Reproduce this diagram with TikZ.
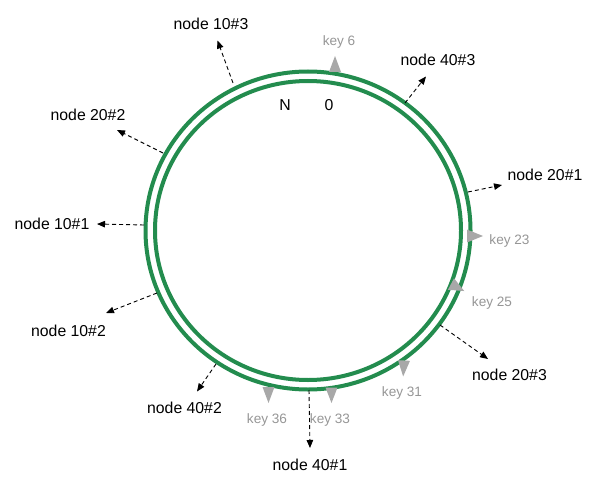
\documentclass[tikz,border=0pt]{standalone}
\usepackage{fontspec}
\setmainfont{Liberation Sans}
\usetikzlibrary{arrows.meta}
\definecolor{ringgreen}{RGB}{35,140,78}
\definecolor{keygray}{RGB}{168,168,168}
\definecolor{keytext}{RGB}{150,150,150}
\begin{document}
\begin{tikzpicture}[x=1pt,y=-1pt,
  ring/.style={draw=ringgreen, line width=4pt},
  lbl/.style={font=\fontsize{15.8}{18}\selectfont, anchor=base, inner sep=0pt},
  keylbl/.style={font=\fontsize{13.6}{16}\selectfont, text=keytext, anchor=base, inner sep=0pt},
  ptr/.style={draw=black, line width=0.9pt, dash pattern=on 4pt off 3pt, -{Triangle[length=8pt,width=6.5pt]}},
  keytri/.style={fill=keygray}]
\useasboundingbox (0,0) rectangle (599,489);

% ring
\draw[ring] (308,230.5) ellipse [x radius=162.5pt, y radius=159pt];
\draw[ring] (308,230.5) ellipse [x radius=153pt, y radius=149.5pt];

% ring labels
\node[lbl] (N) at (285,110.7) {N};
\node[lbl] (zero) at (329,110.7) {0};

% node labels
\node[lbl] (n103) at (211,30) {node 10\#3};
\node[lbl] (n202) at (88,120.7) {node 20\#2};
\node[lbl] (n101) at (52,229) {node 10\#1};
\node[lbl] (n102) at (68.5,336.7) {node 10\#2};
\node[lbl] (n402) at (184.5,413) {node 40\#2};
\node[lbl] (n401) at (310,470.7) {node 40\#1};
\node[lbl] (n203) at (509.5,380.7) {node 20\#3};
\node[lbl] (n201) at (545,180) {node 20\#1};
\node[lbl] (n403) at (438,66) {node 40\#3};

% connector ends
\coordinate (s103) at (233,83);   \coordinate (t103) at (217.5,40.5);
\coordinate (s202) at (163,153);  \coordinate (t202) at (117,130);
\coordinate (s101) at (144,225);  \coordinate (t101) at (97,224);
\coordinate (s102) at (157,293);  \coordinate (t102) at (106,313);
\coordinate (s402) at (216,364);  \coordinate (t402) at (197,391.5);
\coordinate (s401) at (309,390);  \coordinate (t401) at (310,448);
\coordinate (s203) at (440,325);  \coordinate (t203) at (488,359);
\coordinate (s201) at (468,192);  \coordinate (t201) at (502,185);
\coordinate (s403) at (405,103);  \coordinate (t403) at (426,76.5);

\draw[ptr] (s103) -- (t103);
\draw[ptr] (s202) -- (t202);
\draw[ptr] (s101) -- (t101);
\draw[ptr] (s102) -- (t102);
\draw[ptr] (s402) -- (t402);
\draw[ptr] (s401) -- (t401);
\draw[ptr] (s203) -- (t203);
\draw[ptr] (s201) -- (t201);
\draw[ptr] (s403) -- (t403);

% key markers
\fill[keytri, shift={(335,72)}, rotate=90] (0,-6) -- (16,0) -- (0,6) -- cycle;
\fill[keytri, shift={(467,236)}, rotate=0] (0,-6.5) -- (16,0) -- (0,6.5) -- cycle;
\fill[keytri, shift={(451,284)}, rotate=-28] (0,-6.5) -- (15,0) -- (0,6.5) -- cycle;
\fill[keytri, shift={(404,360.5)}, rotate=-93] (0,-6) -- (16,0) -- (0,6) -- cycle;
\fill[keytri, shift={(331.5,387.5)}, rotate=-90] (0,-6) -- (15.5,0) -- (0,6) -- cycle;
\fill[keytri, shift={(268.5,387)}, rotate=-90] (0,-6) -- (16,0) -- (0,6) -- cycle;

% key labels
\node[keylbl] (k6) at (339,46) {key 6};
\node[keylbl] (k23) at (509.5,244) {key 23};
\node[keylbl] (k25) at (492,306.7) {key 25};
\node[keylbl] (k31) at (402,396.7) {key 31};
\node[keylbl] (k33) at (330,423.3) {key 33};
\node[keylbl] (k36) at (267,423.3) {key 36};
\end{tikzpicture}
\end{document}
